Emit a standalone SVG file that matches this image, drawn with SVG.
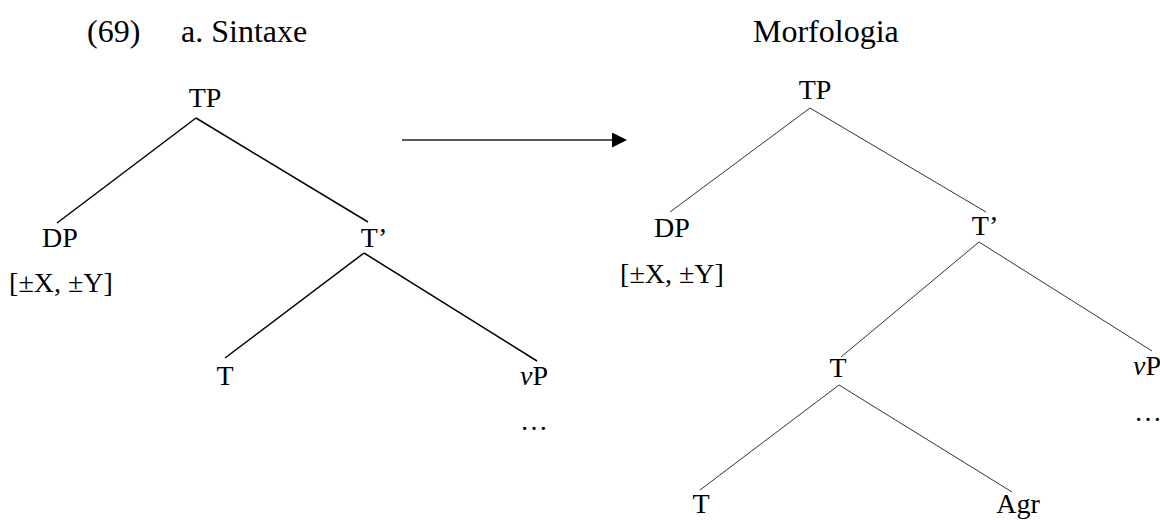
<svg xmlns="http://www.w3.org/2000/svg" width="1160" height="521" viewBox="0 0 1160 521">
  <style>
    text { font-family: "Liberation Serif", "Times New Roman", serif; font-size: 28px; fill: #000; }
    .h { font-size: 32px; }
    .c { text-anchor: middle; }
    .syn { stroke: #000; stroke-width: 1.5; fill: none; }
    .mor { stroke: #333; stroke-width: 1; fill: none; }
  </style>
  <defs>
    <marker id="head" markerWidth="15" markerHeight="15" refX="0" refY="7.5" orient="auto" markerUnits="userSpaceOnUse">
      <path d="M0,0 L15,7.5 L0,15 Z" fill="#000"/>
    </marker>
  </defs>

  <!-- headings -->
  <g id="heading">
    <text class="h" x="87" y="42">(69)</text>
    <text class="h" x="181" y="42">a. Sintaxe</text>
    <text class="h" x="753" y="42">Morfologia</text>
  </g>

  <!-- branches -->
  <g id="connectors">
    <!-- syntax tree -->
    <line class="syn" x1="196" y1="118" x2="57" y2="223"/>
    <line class="syn" x1="196" y1="118" x2="368" y2="222"/>
    <line class="syn" x1="364" y1="253" x2="225" y2="358"/>
    <line class="syn" x1="364" y1="253" x2="537" y2="361"/>
    <!-- mapping arrow -->
    <line x1="402" y1="140" x2="612" y2="140" stroke="#222" stroke-width="1.5" marker-end="url(#head)"/>
    <!-- morphology tree -->
    <line class="mor" x1="810" y1="108" x2="670" y2="212"/>
    <line class="mor" x1="810" y1="108" x2="986" y2="212"/>
    <line class="mor" x1="979" y1="242" x2="841" y2="357"/>
    <line class="mor" x1="979" y1="242" x2="1152" y2="351"/>
    <line class="mor" x1="839" y1="385" x2="700" y2="490"/>
    <line class="mor" x1="839" y1="385" x2="1012" y2="492"/>
  </g>

  <!-- syntax tree nodes -->
  <g id="syn-TP"><text class="c" x="205" y="107">TP</text></g>
  <g id="syn-DP">
    <text class="c" x="60" y="247">DP</text>
    <text class="c" x="61" y="292">[±X, ±Y]</text>
  </g>
  <g id="syn-Tbar"><text class="c" x="374" y="247">T’</text></g>
  <g id="syn-T"><text class="c" x="225" y="385">T</text></g>
  <g id="syn-vP">
    <text class="c" x="534" y="385"><tspan font-style="italic">v</tspan>P</text>
    <text class="c" x="534" y="430">…</text>
  </g>

  <!-- morphology tree nodes -->
  <g id="mor-TP"><text class="c" x="815" y="99">TP</text></g>
  <g id="mor-DP">
    <text class="c" x="672" y="237">DP</text>
    <text class="c" x="672" y="283">[±X, ±Y]</text>
  </g>
  <g id="mor-Tbar"><text class="c" x="985" y="235">T’</text></g>
  <g id="mor-T"><text class="c" x="838" y="377">T</text></g>
  <g id="mor-vP">
    <text class="c" x="1147" y="375"><tspan font-style="italic">v</tspan>P</text>
    <text class="c" x="1148" y="421">…</text>
  </g>
  <g id="mor-T2"><text class="c" x="701" y="513">T</text></g>
  <g id="mor-Agr"><text class="c" x="1018" y="513">Agr</text></g>
</svg>
